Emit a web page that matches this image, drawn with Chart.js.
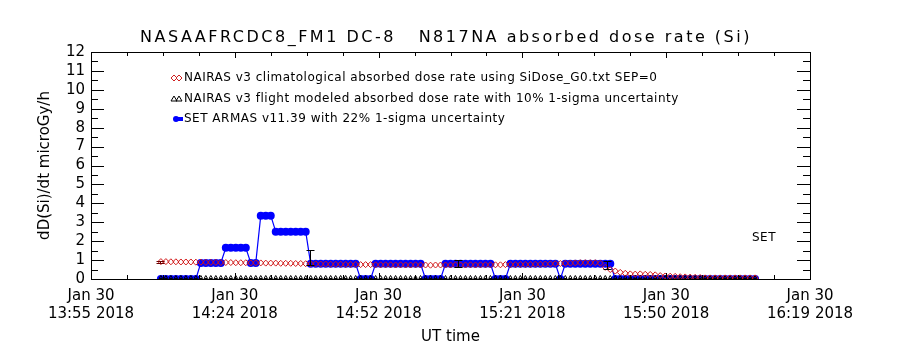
<!DOCTYPE html>
<html>
<head>
<meta charset="utf-8">
<title>N817NA absorbed dose rate (Si)</title>
<script src="https://cdn.jsdelivr.net/npm/chart.js@4.4.0/dist/chart.umd.min.js"></script>
<style>
  html, body { margin: 0; padding: 0; background: #fff; }
  canvas { display: block; }
</style>
</head>
<body>
<canvas id="doseChart" width="900" height="350"></canvas>
<script>
// Samples are one minute apart, counted in minutes after 13:55 UT
const firstMinute = 14;

// NAIRAS v3 climatological dose rate (diamonds)
const nairasClimo = [
  0.92, 0.92, 0.91, 0.91, 0.90, 0.90, 0.90,
  0.89, 0.89, 0.88, 0.88, 0.88, 0.87, 0.87, 0.87, 0.86, 0.86,
  0.86, 0.85, 0.85, 0.85, 0.84, 0.84, 0.84, 0.83, 0.83, 0.83,
  0.82, 0.82, 0.81, 0.80, 0.80, 0.79, 0.79, 0.78, 0.78, 0.78,
  0.77, 0.77, 0.77, 0.76, 0.76, 0.76, 0.75, 0.75, 0.75, 0.75,
  0.74, 0.75, 0.74, 0.74, 0.75, 0.74, 0.74, 0.73, 0.74, 0.74,
  0.74, 0.74, 0.75, 0.74, 0.74, 0.75, 0.74, 0.75, 0.75, 0.75,
  0.75, 0.75, 0.76, 0.76, 0.76, 0.77, 0.77, 0.77, 0.78, 0.78,
  0.79, 0.80, 0.81, 0.82, 0.83, 0.84, 0.85, 0.86, 0.86, 0.86,
  0.86, 0.84, 0.62, 0.50, 0.42, 0.35, 0.30, 0.27, 0.26, 0.27,
  0.25, 0.24, 0.22, 0.18, 0.16, 0.15, 0.14, 0.12, 0.11, 0.10,
  0.09, 0.08, 0.06, 0.06, 0.06, 0.06, 0.06, 0.06, 0.06, 0.06,
  0.06, 0.06, 0.06
];

// NAIRAS v3 flight modeled dose rate (triangles)
const nairasFlight = [
  0.08, 0.08, 0.08, 0.08, 0.08, 0.08, 0.08,
  0.08, 0.08, 0.08, 0.08, 0.08, 0.08, 0.08, 0.08, 0.08, 0.08,
  0.08, 0.08, 0.08, 0.08, 0.08, 0.08, 0.08, 0.08, 0.08, 0.08,
  0.08, 0.08, 0.08, 0.08, 0.08, 0.08, 0.08, 0.08, 0.08, 0.08,
  0.08, 0.08, 0.08, 0.08, 0.08, 0.08, 0.08, 0.08, 0.08, 0.08,
  0.08, 0.08, 0.08, 0.08, 0.08, 0.08, 0.08, 0.08, 0.08, 0.08,
  0.08, 0.08, 0.08, 0.08, 0.08, 0.08, 0.08, 0.08, 0.08, 0.08,
  0.08, 0.08, 0.08, 0.08, 0.08, 0.08, 0.08, 0.08, 0.08, 0.08,
  0.08, 0.08, 0.08, 0.08, 0.08, 0.08, 0.08, 0.08, 0.08, 0.08,
  0.08, 0.08, 0.08, 0.08, 0.08, 0.08, 0.08, 0.08, 0.08, 0.08,
  0.08, 0.08, 0.08, 0.08, 0.08, 0.08, 0.08, 0.08, 0.08, 0.08,
  0.08, 0.08, 0.08, 0.08, 0.08, 0.08, 0.08, 0.08, 0.08, 0.08,
  0.08, 0.08, 0.08
];

// SET ARMAS v11.39 measured dose rate (filled dots)
const armas = [
  0, 0, 0, 0, 0, 0, 0,
  0, 0.85, 0.85, 0.85, 0.85, 0.85, 1.65, 1.65, 1.65, 1.65,
  1.65, 0.85, 0.85, 3.35, 3.35, 3.35, 2.5, 2.5, 2.5, 2.5,
  2.5, 2.5, 2.5, 0.8, 0.8, 0.8, 0.8, 0.8, 0.8, 0.8,
  0.8, 0.8, 0.8, 0, 0, 0, 0.8, 0.8, 0.8, 0.8,
  0.8, 0.8, 0.8, 0.8, 0.8, 0.8, 0, 0, 0, 0,
  0.8, 0.8, 0.8, 0.8, 0.8, 0.8, 0.8, 0.8, 0.8, 0.8,
  0, 0, 0, 0.8, 0.8, 0.8, 0.8, 0.8, 0.8, 0.8,
  0.8, 0.8, 0.8, 0, 0.8, 0.8, 0.8, 0.8, 0.8, 0.8,
  0.8, 0.8, 0.8, 0.8, 0, 0, 0, 0, 0, 0,
  0, 0, 0, 0, 0, 0, 0, 0, 0, 0,
  0, 0, 0, 0, 0, 0, 0, 0, 0, 0,
  0, 0, 0
];

// uncertainty bars: minute, low, high
const errMinutes = [13.8, 43.9, 73.5, 103.4];
const errLow = [0.85, 0.75, 0.62, 0.53];
const errHigh = [0.95, 1.55, 0.98, 0.97];

const xTickMinutes = [0, 28.8, 57.6, 86.4, 115.2, 144];
const xTickLabels = [
  ['Jan 30', '13:55 2018'],
  ['Jan 30', '14:24 2018'],
  ['Jan 30', '14:52 2018'],
  ['Jan 30', '15:21 2018'],
  ['Jan 30', '15:50 2018'],
  ['Jan 30', '16:19 2018']
];

const FONT = 'DejaVu Sans';

function toPoints(values) {
  return values.map((v, i) => ({ x: firstMinute + i, y: v }));
}

// frame, inward ticks and error bars, drawn over the data
const idlAxes = {
  id: 'idlAxes',
  afterDatasetsDraw(chart) {
    const { ctx, chartArea: a, scales: { x, y } } = chart;
    const crisp = v => Math.round(v) + 0.5;
    ctx.save();
    ctx.strokeStyle = '#000';
    ctx.lineWidth = 1;
    ctx.beginPath();
    for (let v = 0.5; v < 12; v += 0.5) {
      const py = crisp(y.getPixelForValue(v));
      const len = Number.isInteger(v) ? 13 : 7;
      ctx.moveTo(a.left, py); ctx.lineTo(a.left + len, py);
      ctx.moveTo(a.right, py); ctx.lineTo(a.right - len, py);
    }
    for (let m = 7.2; m < 144; m += 7.2) {
      const px = crisp(x.getPixelForValue(m));
      const major = xTickMinutes.some(t => Math.abs(t - m) < 0.01);
      const len = major ? 6 : 4;
      ctx.moveTo(px, a.bottom); ctx.lineTo(px, a.bottom - len);
      ctx.moveTo(px, a.top); ctx.lineTo(px, a.top + len);
    }
    ctx.stroke();
    ctx.strokeRect(crisp(a.left), crisp(a.top), Math.round(a.right - a.left), Math.round(a.bottom - a.top));

    errMinutes.forEach((m, i) => {
      const px = crisp(x.getPixelForValue(m));
      const lo = crisp(y.getPixelForValue(errLow[i]));
      const hi = crisp(y.getPixelForValue(errHigh[i]));
      ctx.strokeStyle = i === 0 ? '#6a0000' : '#000';
      ctx.beginPath();
      ctx.moveTo(px, lo); ctx.lineTo(px, hi);
      ctx.moveTo(px - 4, lo); ctx.lineTo(px + 4, lo);
      ctx.moveTo(px - 4, hi); ctx.lineTo(px + 4, hi);
      ctx.stroke();
    });
    ctx.restore();
  }
};

// title, legend and instrument tag
const idlText = {
  id: 'idlText',
  afterDraw(chart) {
    const ctx = chart.ctx;
    ctx.save();
    ctx.fillStyle = '#000';
    ctx.textBaseline = 'middle';

    ctx.font = `16px "${FONT}"`;
    ctx.letterSpacing = '2.5px';
    ctx.textAlign = 'center';
    ctx.fillText('NASAAFRCDC8_FM1 DC-8   N817NA absorbed dose rate (Si)', 446, 38);

    ctx.font = `12px "${FONT}"`;
    ctx.letterSpacing = '0.5px';
    ctx.textAlign = 'left';
    const legendX = 184;
    ctx.fillText('NAIRAS v3 climatological absorbed dose rate using SiDose_G0.txt SEP=0', legendX, 78);
    ctx.fillText('NAIRAS v3 flight modeled absorbed dose rate with 10% 1-sigma uncertainty', legendX, 99);
    ctx.fillText('SET ARMAS v11.39 with 22% 1-sigma uncertainty', legendX, 119);
    ctx.fillText('SET', 752, 238);
    ctx.letterSpacing = '0px';

    // legend symbols
    ctx.lineWidth = 1;
    ctx.strokeStyle = '#d02020';
    [174, 179].forEach(cx => {
      ctx.beginPath();
      ctx.moveTo(cx, 75); ctx.lineTo(cx + 3, 78); ctx.lineTo(cx, 81); ctx.lineTo(cx - 3, 78);
      ctx.closePath();
      ctx.stroke();
    });
    ctx.strokeStyle = '#000';
    [174, 179].forEach(cx => {
      ctx.beginPath();
      ctx.moveTo(cx, 96); ctx.lineTo(cx + 3, 101); ctx.lineTo(cx - 3, 101);
      ctx.closePath();
      ctx.stroke();
    });
    ctx.strokeStyle = '#0000ff';
    ctx.fillStyle = '#0000ff';
    ctx.lineWidth = 4;
    ctx.beginPath();
    ctx.moveTo(174, 119); ctx.lineTo(183, 119);
    ctx.stroke();
    ctx.beginPath();
    ctx.arc(176, 119, 3, 0, Math.PI * 2);
    ctx.fill();
    ctx.restore();
  }
};

new Chart(document.getElementById('doseChart'), {
  type: 'line',
  data: {
    datasets: [
      {
        label: 'NAIRAS v3 climatological',
        data: toPoints(nairasClimo),
        showLine: false,
        pointStyle: 'rectRot',
        pointRadius: 3,
        pointBorderWidth: 1,
        pointBorderColor: '#d01818',
        pointBackgroundColor: 'rgba(0,0,0,0)'
      },
      {
        label: 'NAIRAS v3 flight modeled',
        data: toPoints(nairasFlight),
        showLine: false,
        pointStyle: 'triangle',
        pointRadius: 2,
        pointBorderWidth: 1,
        pointBorderColor: '#000',
        pointBackgroundColor: 'rgba(0,0,0,0)'
      },
      {
        label: 'SET ARMAS v11.39',
        data: toPoints(armas),
        borderColor: '#0000ff',
        borderWidth: 1.2,
        tension: 0,
        pointStyle: 'circle',
        pointRadius: 4,
        pointBorderWidth: 0,
        pointBackgroundColor: '#0000ff'
      }
    ]
  },
  options: {
    responsive: false,
    animation: false,
    devicePixelRatio: 1,
    layout: { padding: { top: 52, right: 90, bottom: 0, left: 0 } },
    plugins: {
      legend: { display: false },
      tooltip: { enabled: false }
    },
    scales: {
      x: {
        type: 'linear',
        min: 0,
        max: 144,
        grid: { display: false, drawTicks: false },
        border: { display: false },
        afterBuildTicks: scale => {
          scale.ticks = xTickMinutes.map(v => ({ value: v }));
        },
        afterFit: scale => { scale.height = 71; },
        ticks: {
          color: '#000',
          font: { family: FONT, size: 15 },
          padding: 8,
          maxRotation: 0,
          autoSkip: false,
          callback: (value, index) => xTickLabels[index]
        },
        title: {
          display: true,
          text: 'UT time',
          color: '#000',
          font: { family: FONT, size: 15 },
          padding: { top: 0, bottom: 4 }
        }
      },
      y: {
        min: 0,
        max: 12,
        grid: { display: false, drawTicks: false },
        border: { display: false },
        afterFit: scale => { scale.width = 91; },
        ticks: {
          stepSize: 1,
          autoSkip: false,
          color: '#000',
          font: { family: FONT, size: 15 },
          padding: 6
        },
        title: {
          display: true,
          text: 'dD(Si)/dt microGy/h',
          color: '#000',
          font: { family: FONT, size: 15 },
          padding: { top: 36, bottom: 0 }
        }
      }
    }
  },
  plugins: [idlAxes, idlText]
});
</script>
</body>
</html>
